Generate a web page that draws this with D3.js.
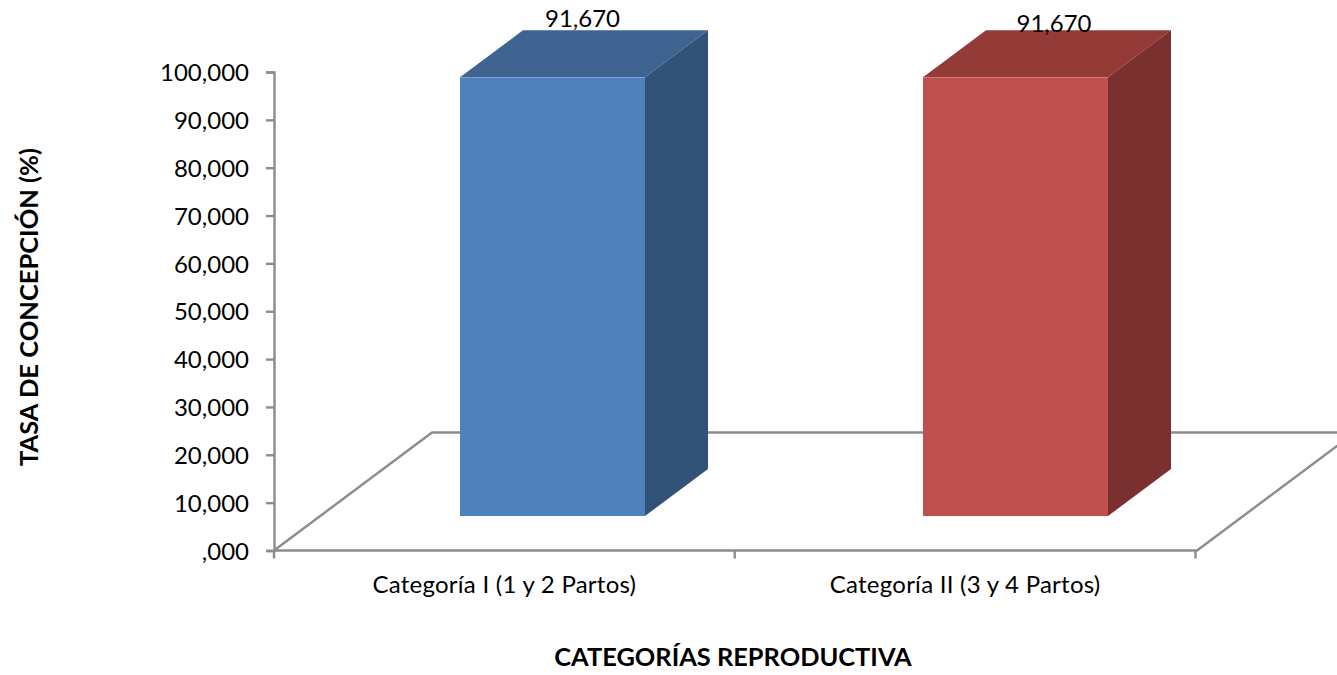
<!DOCTYPE html>
<html>
<head>
<meta charset="utf-8">
<script src="https://cdn.jsdelivr.net/npm/d3@7"></script>
<style>
html,body{margin:0;padding:0;background:#fff;overflow:hidden}
svg{display:block}
text{font-family:Lato,"Open Sans",sans-serif;fill:#000}
</style>
</head>
<body>
<svg id="chart" width="1337" height="675"></svg>
<script>
const categories = ["Categoría I (1 y 2 Partos)", "Categoría II (3 y 4 Partos)"];
const values = [91.67, 91.67];
const yTicks = [0, 10, 20, 30, 40, 50, 60, 70, 80, 90, 100];
const frontColors = ["#4F81BD", "#C0504D"];
const topColors = ["#3F6491", "#943B38"];
const sideColors = ["#325278", "#79302E"];
const labelLift = [50, 45];
const labelShift = [30, 38.5];
const xTitle = "CATEGORÍAS REPRODUCTIVA";
const yTitle = "TASA DE CONCEPCIÓN (%)";

const svg = d3.select("#chart");
const fmt = d => d === 0 ? ",000" : d.toFixed(3).replace(".", ",");
const axisColor = "#8C8C8C";
const axisW = 2.4;

const y = d3.scaleLinear().domain([0, 100]).range([550.5, 72]);
const x = d3.scaleBand().domain(categories).range([274, 1195.5]);
const xBar = d3.scalePoint().domain(categories).range([552.5, 1015.5]);

// floor (3D depth)
const floorDx = 158, floorDy = -118;
const x0 = 274, x1 = 1197, yF = y(0);
svg.append("path")
  .attr("d", d3.line()([[x0, yF], [x0 + floorDx, yF + floorDy], [x1 + floorDx, yF + floorDy], [x1, yF], [x0, yF]]))
  .attr("fill", "none").attr("stroke", axisColor).attr("stroke-width", axisW);

// axes
const yAxis = d3.axisLeft(y).tickValues(yTicks).tickFormat(fmt).tickSize(8);
const gy = svg.append("g").attr("transform", "translate(274,0)").call(yAxis);
gy.select(".domain").attr("stroke", axisColor).attr("stroke-width", axisW);
gy.selectAll(".tick line").attr("stroke", axisColor).attr("stroke-width", axisW);
gy.selectAll(".tick text").attr("font-size", 24).attr("fill", "#000")
  .attr("font-family", "Lato").attr("dy", "0.36em").attr("x", -25);

const xAxis = d3.axisBottom(x).tickSize(0);
const gx = svg.append("g").attr("transform", `translate(0,${yF})`).call(xAxis);
gx.select(".domain").attr("stroke", "none");
gx.selectAll(".tick text").attr("font-size", 24).attr("fill", "#000")
  .attr("font-family", "Lato").attr("y", 25).attr("letter-spacing", 0.25);
gx.selectAll("line.edge").data([x.range()[0], (x.range()[0] + x.range()[1]) / 2, x.range()[1]])
  .enter().append("line").attr("class", "edge")
  .attr("x1", d => d).attr("x2", d => d).attr("y1", 0).attr("y2", 8)
  .attr("stroke", axisColor).attr("stroke-width", axisW);

// bars
const barW = 185, depthDx = 63, depthDy = -47, baseY = 516;
const barH = v => y(0) - y(v);
const bars = svg.selectAll("g.bar").data(categories).enter().append("g").attr("class", "bar");
bars.each(function (c, i) {
  const g = d3.select(this);
  const l = xBar(c) - barW / 2, r = l + barW;
  const t = baseY - barH(values[i]), b = baseY;
  const line = d3.line();
  g.append("path").attr("fill", topColors[i])
    .attr("d", line([[l, t], [l + depthDx, t + depthDy], [r + depthDx, t + depthDy], [r, t]]) + "Z");
  g.append("path").attr("fill", sideColors[i])
    .attr("d", line([[r, t], [r + depthDx, t + depthDy], [r + depthDx, b + depthDy], [r, b]]) + "Z");
  g.append("rect").attr("x", l).attr("y", t).attr("width", barW).attr("height", b - t).attr("fill", frontColors[i]);
  g.append("text").attr("x", xBar(c) + labelShift[i]).attr("y", t - labelLift[i])
    .attr("text-anchor", "middle").attr("font-size", 24).text(fmt(values[i]));
});

// titles
svg.append("text").attr("x", 733).attr("y", 666).attr("text-anchor", "middle")
  .attr("font-size", 25.4).attr("font-weight", 700).text(xTitle);
svg.append("text").attr("transform", "translate(38,307) rotate(-90)").attr("text-anchor", "middle")
  .attr("font-size", 25.5).attr("font-weight", 700).text(yTitle);
</script>
</body>
</html>
